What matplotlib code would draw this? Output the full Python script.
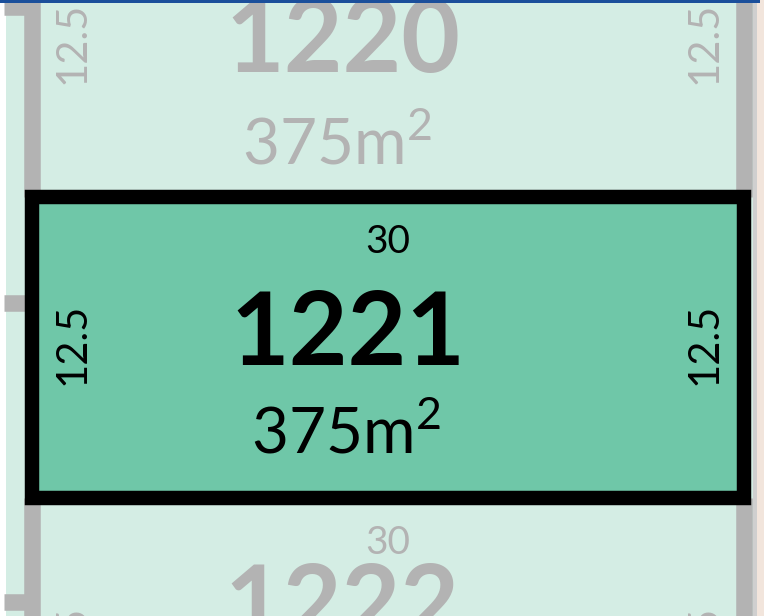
import matplotlib
matplotlib.use('Agg')
import matplotlib.pyplot as plt
from matplotlib.patches import Rectangle

# ---- data -------------------------------------------------------------
lot_numbers = ['1220', '1221', '1222']
lot_areas = [375, 375, 375]
lot_frontages = [30, 30, 30]
lot_depths = [12.5, 12.5, 12.5]
highlight_lot = '1221'
left_neighbour_boundaries = [20.4, 8.1, -4.3]

# ---- layout / style ---------------------------------------------------
# bottom edge of each lot (metres); 1221 sits at 0
lot_bottoms = [lot_depths[1], 0.0, -lot_depths[2]]
number_base = [5.19, 5.52, 6.69]     # baseline of lot number above lot bottom
number_x = [13.1, 13.3, 13.06]
area_base = [1.41, 1.87, 1.87]
area_x = [12.85, 13.23, 13.1]
side_label_y = 6.38
side_label_x = [1.69, 28.36]
front_label_drop = 2.33

C_LIGHT = '#d4ede4'
C_FILL = '#6fc7a8'
C_GRAY = '#b3b3b3'
C_BLUE = '#1b4f9b'
C_BLACK = '#000000'

plt.rcParams['font.family'] = ['Lato', 'DejaVu Sans']
plt.rcParams['mathtext.fontset'] = 'custom'
plt.rcParams['mathtext.rm'] = 'Lato'
plt.rcParams['mathtext.it'] = 'Lato:italic'
plt.rcParams['mathtext.bf'] = 'Lato:bold'

fig = plt.figure(figsize=(7.64, 6.16), dpi=100)
fig.patch.set_facecolor('white')
ax = fig.add_axes([0, 0, 1, 1])
ax.set_xlim(-1.348, 30.85)
ax.set_ylim(-4.90, 20.68)
ax.axis('off')

# background strips
ax.add_patch(Rectangle((-1.095, -10), 31.65, 40, facecolor=C_LIGHT, edgecolor='none', zorder=0))
ax.add_patch(Rectangle((30.38, -10), 0.17, 40, facecolor='#cfcfcf', edgecolor='none', zorder=0.5))
ax.add_patch(Rectangle((30.55, -10), 1.0, 40, facecolor='#f2e5dc', edgecolor='none', zorder=0.5))

gray_lw = 11.9
black_lw = 10.4

# left neighbour boundary stubs
for yb in left_neighbour_boundaries:
    ax.plot([-1.2, 0], [yb, yb], color=C_GRAY, lw=gray_lw, solid_capstyle='butt', zorder=1)

for i, num in enumerate(lot_numbers):
    x0, w = 0, lot_frontages[i]
    y0, h = lot_bottoms[i], lot_depths[i]
    hl = (num == highlight_lot)
    tc = C_BLACK if hl else C_GRAY
    if hl:
        ax.add_patch(Rectangle((x0, y0), w, h, facecolor=C_FILL, edgecolor=C_BLACK,
                               lw=black_lw, joinstyle='miter', zorder=3))
    else:
        for xv in (x0, x0 + w):
            ax.plot([xv, xv], [y0, y0 + h], color=C_GRAY, lw=gray_lw,
                    solid_capstyle='butt', zorder=2)
    # frontage
    ax.text(x0 + w / 2, y0 + h - front_label_drop, f'{lot_frontages[i]:g}', color=tc,
            fontsize=28, ha='center', va='baseline', zorder=5)
    # depth labels
    for sx in side_label_x:
        ax.text(sx, y0 + side_label_y, f'{lot_depths[i]:g}', color=tc, fontsize=30,
                rotation=90, ha='center', va='center', rotation_mode='anchor', zorder=5)
    # lot number
    ax.text(number_x[i], y0 + number_base[i], num, color=tc, fontsize=73,
            fontweight='bold', ha='center', va='baseline', zorder=5)
    # area
    ax.text(area_x[i], y0 + area_base[i], f'{lot_areas[i]}m' + r'$^{\mathrm{2}}$', color=tc,
            fontsize=46, ha='center', va='baseline', zorder=5)

# top blue bar
ax.add_patch(Rectangle((-2, 20.56), 32.7, 1, facecolor=C_BLUE, edgecolor='none', zorder=6))

fig.savefig('out.png', dpi=100)
